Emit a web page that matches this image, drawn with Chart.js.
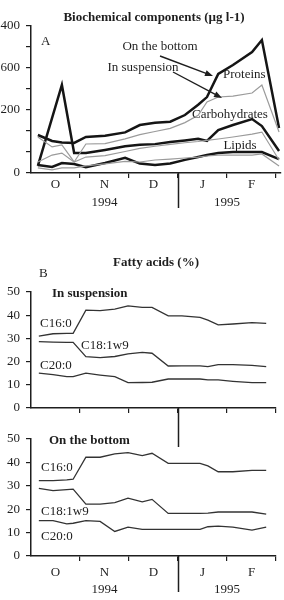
<!DOCTYPE html>
<html>
<head>
<meta charset="utf-8">
<script src="https://cdn.jsdelivr.net/npm/chart.js@4"></script>
<style>
  body { margin: 0; background: #fff; width: 284px; height: 600px; position: relative; overflow: hidden; }
  canvas { position: absolute; left: 0; }
</style>
</head>
<body>
<canvas id="chA" width="284" height="215" style="top:0px"></canvas>
<canvas id="chB1" width="284" height="210" style="top:245px"></canvas>
<canvas id="chB2" width="284" height="175" style="top:425px"></canvas>
<script>
// x positions are in months counted from 1 Oct 1994
const monthLabels = ['O', 'N', 'D', 'J', 'F'];
const yearLabels = ['1994', '1995'];
const yearCentres = [1.5, 4];

// A: biochemical components (ug l-1)
const sampleA = [0.14, 0.43, 0.63, 0.88, 1.12, 1.51, 1.92, 2.22, 2.53, 2.84, 3.14, 3.41, 3.59, 3.82, 4.12, 4.51, 4.71, 5.06];
const proteinsBottom = [362, 305, 290, 286, 343, 355, 387, 457, 479, 488, 552, 650, 723, 943, 1028, 1152, 1266, 428];
const proteinsSusp   = [343, 248, 267, 105, 276, 280, 325, 365, 395, 425, 480, 550, 676, 724, 733, 762, 838, 390];
const carbsBottom    = [67, null, 838, 190, 190, 220, 255, 270, 275, 295, 310, 325, 305, 409, 457, 514, 447, 209];
const carbsSusp      = [105, 171, 190, 105, 152, 165, 205, 235, 255, 272, 288, 300, 310, 324, 343, 371, 390, 124];
const lipidsBottom   = [76, 57, 95, 86, 55, 95, 145, 90, 76, 90, 125, 152, 171, 190, 200, 200, 200, 133];
const lipidsSusp     = [48, 29, 48, 48, 67, 86, 110, 105, 124, 133, 143, 152, 162, 171, 171, 171, 181, 67];
// tick labels as they appear on the (cropped) left edge
const yTicksA = ['0', '', '', '200', '', '600', '', '400'];

// B: fatty acids (%)
const sampleB = [0.16, 0.45, 0.73, 0.86, 1.12, 1.41, 1.71, 1.98, 2.27, 2.47, 2.80, 3.08, 3.45, 3.61, 3.82, 4.12, 4.51, 4.80];
const suspC16 = [31, 32, 32.2, 32.2, 42.2, 42, 42.6, 44, 43.4, 43.4, 39.7, 39.7, 39.1, 37.9, 35.8, 36.2, 36.8, 36.5];
const suspC18 = [28.6, 28.4, 28.3, 28.3, 22.1, 21.7, 22.2, 23.3, 24, 23.6, 18.1, 18.2, 18.2, 17.8, 18.7, 18.7, 18.4, 17.8];
const suspC20 = [15, 14.4, 13.5, 13.5, 15, 14.2, 13.5, 10.9, 11, 11.1, 12.5, 12.5, 12.5, 12.1, 12.1, 11.5, 10.9, 10.9];
const bottomC16 = [32.2, 32.2, 32.5, 32.8, 42.2, 42.2, 43.6, 44.2, 42.9, 43.9, 39.6, 39.6, 39.6, 38.5, 36, 36, 36.6, 36.6];
const bottomC18 = [28.9, 27.9, 28.4, 28.6, 22.2, 22.2, 22.8, 24.7, 23.1, 24.2, 18.2, 18.2, 18.2, 18.3, 18.8, 18.8, 18.8, 17.9];
const bottomC20 = [15.1, 15.1, 13.7, 14, 15.1, 14.8, 10.5, 12.3, 11.4, 11.4, 11.4, 11.4, 11.4, 12.5, 12.8, 12.3, 11.1, 12.3];

const INK = '#1e1e1e';
const SERIF = "'Liberation Serif', 'Times New Roman', serif";
Chart.defaults.font.family = SERIF;
Chart.defaults.font.size = 13;
Chart.defaults.color = INK;

function series(xs, ys, color, width) {
  return {
    data: ys.map((v, i) => ({x: xs[i], y: v})),
    borderColor: color, borderWidth: width,
    pointRadius: 0, tension: 0, spanGaps: true, fill: false
  };
}

// labels, arrows, month/year text and the year separator
const notes = {
  id: 'notes',
  afterDraw(chart, args, o) {
    const ctx = chart.ctx, xs = chart.scales.x, area = chart.chartArea;
    ctx.save();
    ctx.fillStyle = INK;
    ctx.strokeStyle = INK;
    ctx.textBaseline = 'middle';
    (o.texts || []).forEach(t => {
      ctx.font = (t.bold ? 'bold ' : '') + '13px ' + SERIF;
      ctx.textAlign = t.align || 'left';
      ctx.fillText(t.text, t.x, t.y);
    });
    (o.arrows || []).forEach(a => {
      const ang = Math.atan2(a[3] - a[1], a[2] - a[0]);
      ctx.lineWidth = 1.4;
      ctx.beginPath();
      ctx.moveTo(a[0], a[1]);
      ctx.lineTo(a[2] - 6 * Math.cos(ang), a[3] - 6 * Math.sin(ang));
      ctx.stroke();
      ctx.beginPath();
      ctx.moveTo(a[2], a[3]);
      ctx.lineTo(a[2] - 8 * Math.cos(ang) + 3 * Math.sin(ang), a[3] - 8 * Math.sin(ang) - 3 * Math.cos(ang));
      ctx.lineTo(a[2] - 8 * Math.cos(ang) - 3 * Math.sin(ang), a[3] - 8 * Math.sin(ang) + 3 * Math.cos(ang));
      ctx.closePath();
      ctx.fill();
    });
    ctx.font = '13px ' + SERIF;
    ctx.textAlign = 'center';
    if (o.monthsY) monthLabels.forEach((m, i) => ctx.fillText(m, xs.getPixelForValue(i + 0.5), o.monthsY));
    if (o.yearsY) yearLabels.forEach((y, i) => ctx.fillText(y, xs.getPixelForValue(yearCentres[i]), o.yearsY));
    if (o.sepTo) {
      const px = Math.round(xs.getPixelForValue(3)) + 0.5;
      ctx.lineWidth = 1.5;
      ctx.beginPath();
      ctx.moveTo(px, area.bottom);
      ctx.lineTo(px, o.sepTo);
      ctx.stroke();
    }
    ctx.restore();
  }
};

function xScale(max, height) {
  return {
    type: 'linear', min: 0, max: max,
    afterBuildTicks: s => { s.ticks = [1, 2, 3, 4, 5].map(v => ({value: v})); },
    afterFit: s => { s.height = height; },
    grid: {drawOnChartArea: false, drawTicks: true, tickLength: 5, color: INK, lineWidth: 1.2},
    border: {color: INK, width: 1.5},
    ticks: {autoSkip: false, callback: () => ''}
  };
}

function yScale(max, step, labels) {
  const vals = [];
  for (let v = 0; v <= max; v += step) vals.push(v);
  return {
    type: 'linear', min: 0, max: max,
    afterBuildTicks: s => { s.ticks = vals.map(v => ({value: v})); },
    afterFit: s => { s.width = 31; },
    grid: {drawOnChartArea: false, drawTicks: true, tickLength: 5, color: INK, lineWidth: 1.2},
    border: {color: INK, width: 1.5},
    ticks: {autoSkip: false, padding: 6, color: INK, font: {size: 13},
            callback: v => labels ? labels[Math.round(v / step)] : String(v)}
  };
}

function baseOptions(pad, xs, ys, noteOpts) {
  return {
    responsive: false, animation: false,
    layout: {padding: pad},
    plugins: {legend: {display: false}, tooltip: {enabled: false}, notes: noteOpts},
    scales: {x: xs, y: ys}
  };
}

const GREY = '#9b9b9b', BLACK = '#151515';

new Chart(document.getElementById('chA'), {
  type: 'line',
  data: {datasets: [
    series(sampleA, proteinsSusp, GREY, 1.2),
    series(sampleA, carbsSusp, GREY, 1.2),
    series(sampleA, lipidsSusp, GREY, 1.2),
    series(sampleA, proteinsBottom, BLACK, 2.5),
    series(sampleA, carbsBottom, BLACK, 2.5),
    series(sampleA, lipidsBottom, BLACK, 2.5)
  ]},
  options: baseOptions({top: 26, right: 3, left: 0, bottom: 0}, xScale(5.1, 42), yScale(1400, 200, yTicksA), {
    texts: [
      {text: 'Biochemical components (\u00b5g l-1)', x: 154, y: 18, bold: true, align: 'center'},
      {text: 'A', x: 41, y: 42},
      {text: 'On the bottom', x: 160, y: 47, align: 'center'},
      {text: 'In suspension', x: 143, y: 68, align: 'center'},
      {text: 'Proteins', x: 223, y: 75},
      {text: 'Carbohydrates', x: 230, y: 115, align: 'center'},
      {text: 'Lipids', x: 240, y: 146, align: 'center'}
    ],
    arrows: [[160, 56, 213, 76], [173, 72, 222, 98]],
    monthsY: 185, yearsY: 203, sepTo: 208
  }),
  plugins: [notes]
});

new Chart(document.getElementById('chB1'), {
  type: 'line',
  data: {datasets: [
    series(sampleB, suspC16, '#333', 1.3),
    series(sampleB, suspC18, '#333', 1.3),
    series(sampleB, suspC20, '#333', 1.3)
  ]},
  options: baseOptions({top: 47, right: 8, left: 0, bottom: 0}, xScale(5, 47), yScale(50, 10), {
    texts: [
      {text: 'Fatty acids (%)', x: 156, y: 18, bold: true, align: 'center'},
      {text: 'B', x: 39, y: 29},
      {text: 'In suspension', x: 52, y: 49, bold: true},
      {text: 'C16:0', x: 40, y: 79},
      {text: 'C18:1w9', x: 81, y: 101},
      {text: 'C20:0', x: 40, y: 121}
    ],
    sepTo: 202
  }),
  plugins: [notes]
});

new Chart(document.getElementById('chB2'), {
  type: 'line',
  data: {datasets: [
    series(sampleB, bottomC16, '#333', 1.3),
    series(sampleB, bottomC18, '#333', 1.3),
    series(sampleB, bottomC20, '#333', 1.3)
  ]},
  options: baseOptions({top: 14, right: 8, left: 0, bottom: 0}, xScale(5, 44), yScale(50, 10), {
    texts: [
      {text: 'On the bottom', x: 49, y: 16, bold: true},
      {text: 'C16:0', x: 41, y: 43},
      {text: 'C18:1w9', x: 41, y: 87},
      {text: 'C20:0', x: 41, y: 112}
    ],
    monthsY: 148, yearsY: 165, sepTo: 167
  }),
  plugins: [notes]
});
</script>
</body>
</html>
